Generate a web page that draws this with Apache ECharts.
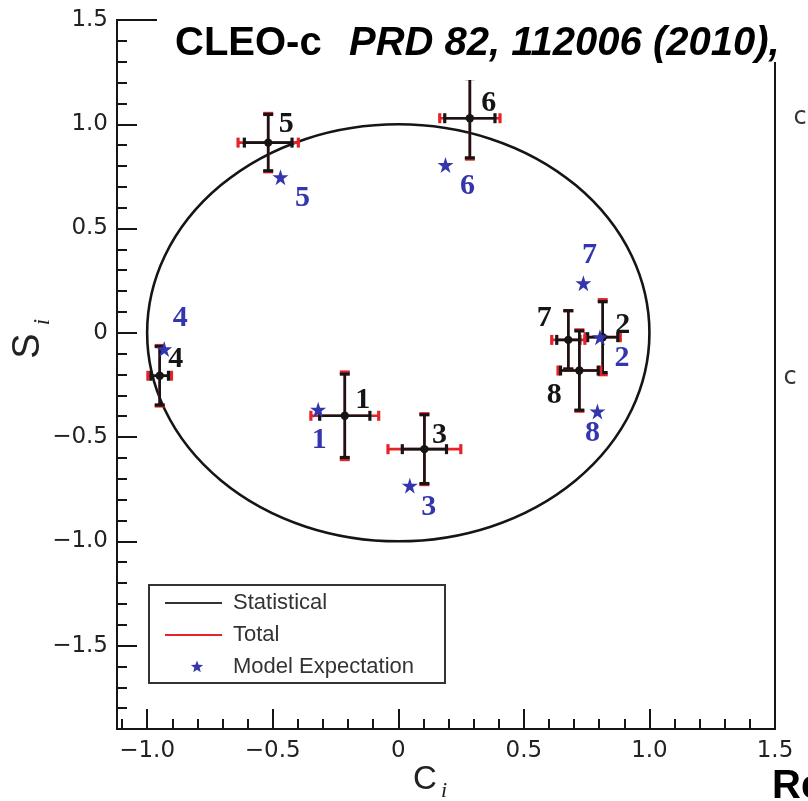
<!DOCTYPE html>
<html>
<head>
<meta charset="utf-8">
<script src="https://cdn.jsdelivr.net/npm/echarts@6/dist/echarts.min.js"></script>
<style>html,body{margin:0;padding:0;background:#fff;}#chart{width:808px;height:801px;}</style>
</head>
<body>
<div id="chart"></div>
<script>
// ---------- data ----------
const pointLabels = ['1', '2', '3', '4', '5', '6', '7', '8'];
const cValues   = [-0.213, 0.814, 0.104, -0.950, -0.518, 0.285, 0.677, 0.721];
const sValues   = [-0.398, -0.021, -0.558, -0.206, 0.912, 1.029, -0.034, -0.181];
const cStatErr  = [0.100, 0.060, 0.088, 0.035, 0.095, 0.100, 0.046, 0.075];
const cTotErr   = [0.135, 0.070, 0.145, 0.047, 0.120, 0.120, 0.066, 0.085];
const sStatErr  = [0.200, 0.170, 0.165, 0.140, 0.135, 0.190, 0.140, 0.190];
const sTotErr   = [0.210, 0.180, 0.170, 0.145, 0.140, 0.196, 0.140, 0.195];
const modelC    = [-0.319, 0.803, 0.046, -0.932, -0.469, 0.188, 0.737, 0.793];
const modelS    = [-0.369, -0.021, -0.733, -0.078, 0.746, 0.805, 0.238, -0.377];
const circleCenter = [0, 0];
const circleRadius = 1;
const xMajorTicks = [-1.0, -0.5, 0, 0.5, 1.0, 1.5];
const xMinorTicks = [-1.1, -0.9, -0.8, -0.7, -0.6, -0.4, -0.3, -0.2, -0.1, 0.1, 0.2, 0.3, 0.4, 0.6, 0.7, 0.8, 0.9, 1.1, 1.2, 1.3, 1.4];
const yMajorTicks = [-1.5, -1.0, -0.5, 0, 0.5, 1.0, 1.5];
const yMinorTicks = [-1.9, -1.8, -1.7, -1.6, -1.4, -1.3, -1.2, -1.1, -0.9, -0.8, -0.7, -0.6, -0.4, -0.3, -0.2, -0.1, 0.1, 0.2, 0.3, 0.4, 0.6, 0.7, 0.8, 0.9, 1.1, 1.2, 1.3, 1.4];
const legendNames = ['Statistical', 'Total', 'Model Expectation'];

// ---------- styles ----------
const BLACK = '#151515', RED = '#e5232b', BLUE = '#3436ad';
const blackLabelOffsets = [[18,-16],[20,-12],[15,-14],[16,-17],[18,-18],[19,-15],[-24,-22],[-25,25]];
const blueLabelOffsets  = [[1,31],[22,21],[19,22],[16,-31],[22,21],[22,21],[6,-28],[-5,22]];
const STAR = 'path://M50,0 L61.2,34.5 L97.6,34.5 L68.2,55.9 L79.4,90.5 L50,69.1 L20.6,90.5 L31.8,55.9 L2.4,34.5 L38.8,34.5 Z';
const numFont = {fontFamily: 'Liberation Serif', fontWeight: 'bold', fontSize: 30};
const tickFont = {fontFamily: 'DejaVu Sans', fontSize: 23, color: '#222'};

function fmt(v) {
  if (Math.abs(v) < 1e-9) return '0';
  return (v < 0 ? '\u2212' : '') + Math.abs(v).toFixed(1);
}
function starPoints(cx, cy, R) {
  const pts = [];
  for (let k = 0; k < 10; k++) {
    const r = k % 2 === 0 ? R : R * 0.42;
    const a = -Math.PI / 2 + k * Math.PI / 5;
    pts.push([cx + r * Math.cos(a), cy + r * Math.sin(a)]);
  }
  return pts;
}

const errData = cValues.map((c, i) => [c, sValues[i], cStatErr[i], cTotErr[i], sStatErr[i], sTotErr[i]]);
const ptData = cValues.map((c, i) => ({value: [c, sValues[i]], label: {formatter: pointLabels[i], offset: blackLabelOffsets[i]}}));
const modelData = modelC.map((c, i) => ({value: [c, modelS[i]], label: {formatter: pointLabels[i], offset: blueLabelOffsets[i]}}));

function renderErr(params, api) {
  const c = api.value(0), s = api.value(1), cs = api.value(2), ct = api.value(3), ss = api.value(4), st = api.value(5);
  const P = (x, y) => api.coord([x, y]);
  const ctr = P(c, s);
  const hl = P(c - ct, s), hr = P(c + ct, s), hls = P(c - cs, s), hrs = P(c + cs, s);
  const vt = P(c, s + st), vb = P(c, s - st), vts = P(c, s + ss), vbs = P(c, s - ss);
  const cap = 5;
  const line = (a, b, color, w) => ({type: 'line', shape: {x1: a[0], y1: a[1], x2: b[0], y2: b[1]}, style: {stroke: color, lineWidth: w}});
  const vcap = (p, color) => line([p[0], p[1] - cap], [p[0], p[1] + cap], color, 3.2);
  const hcap = (p, color) => line([p[0] - cap, p[1]], [p[0] + cap, p[1]], color, 3.2);
  return {
    type: 'group',
    children: [
      line(hl, hr, RED, 2.6), line(vt, vb, RED, 2.6),
      vcap(hl, RED), vcap(hr, RED), hcap(vt, RED), hcap(vb, RED),
      line(hls, hrs, BLACK, 2.6), line(vts, vbs, BLACK, 2.6),
      vcap(hls, BLACK), vcap(hrs, BLACK), hcap(vts, BLACK), hcap(vbs, BLACK),
      {type: 'circle', shape: {cx: ctr[0], cy: ctr[1], r: 4.2}, style: {fill: BLACK}}
    ]
  };
}

function renderCircle(params, api) {
  const c = api.coord([api.value(0), api.value(1)]);
  const r = api.value(2);
  const sz = api.size([r, r]);
  const rx = sz[0], ry = sz[1];
  const d = 'M' + (c[0] - rx) + ',' + c[1] +
            ' A' + rx + ',' + ry + ' 0 1 0 ' + (c[0] + rx) + ',' + c[1] +
            ' A' + rx + ',' + ry + ' 0 1 0 ' + (c[0] - rx) + ',' + c[1] + ' Z';
  return {type: 'path', shape: {pathData: d}, style: {fill: 'none', stroke: BLACK, lineWidth: 2.6}};
}

const axisLineStyle = {color: BLACK, width: 2};
const chart = echarts.init(document.getElementById('chart'), null, {renderer: 'canvas'});
chart.setOption({
  animation: false,
  backgroundColor: '#fff',
  grid: {left: 117, right: 33, top: 20, bottom: 72, show: true, borderColor: BLACK, borderWidth: 2, backgroundColor: 'transparent'},
  xAxis: [
    {type: 'value', min: -1.12, max: 1.5, position: 'bottom', splitLine: {show: false},
     axisLine: {show: true, onZero: false, lineStyle: axisLineStyle},
     axisTick: {show: true, inside: true, length: 20, customValues: xMajorTicks, lineStyle: {color: BLACK, width: 2}},
     axisLabel: Object.assign({show: true, margin: 11, customValues: xMajorTicks, formatter: fmt}, tickFont)},
    {type: 'value', min: -1.12, max: 1.5, position: 'bottom', splitLine: {show: false},
     axisLine: {show: false, onZero: false},
     axisTick: {show: true, inside: true, length: 10, customValues: xMinorTicks, lineStyle: {color: BLACK, width: 2}},
     axisLabel: {show: false}}
  ],
  yAxis: [
    {type: 'value', min: -1.9, max: 1.5, position: 'left', splitLine: {show: false},
     axisLine: {show: true, onZero: false, lineStyle: axisLineStyle},
     axisTick: {show: true, inside: true, length: 20, customValues: yMajorTicks, lineStyle: {color: BLACK, width: 2}},
     axisLabel: Object.assign({show: true, margin: 9, customValues: yMajorTicks, formatter: fmt}, tickFont)},
    {type: 'value', min: -1.9, max: 1.5, position: 'left', splitLine: {show: false},
     axisLine: {show: false, onZero: false},
     axisTick: {show: true, inside: true, length: 10, customValues: yMinorTicks, lineStyle: {color: BLACK, width: 2}},
     axisLabel: {show: false}}
  ],
  series: [
    {type: 'custom', name: 'circle', xAxisIndex: 0, yAxisIndex: 0, renderItem: renderCircle,
     data: [[circleCenter[0], circleCenter[1], circleRadius]], silent: true, z: 1},
    {type: 'custom', name: legendNames[0], xAxisIndex: 0, yAxisIndex: 0, renderItem: renderErr, data: errData, z: 3},
    {type: 'scatter', name: 'labels', xAxisIndex: 0, yAxisIndex: 0, symbolSize: 0, data: ptData, z: 4,
     itemStyle: {opacity: 1},
     label: Object.assign({show: true, position: 'inside', color: BLACK, opacity: 1}, numFont)},
    {type: 'scatter', name: legendNames[2], xAxisIndex: 0, yAxisIndex: 0, symbol: STAR, symbolSize: 16,
     itemStyle: {color: BLUE, opacity: 1}, data: modelData, z: 5,
     label: Object.assign({show: true, position: 'inside', color: BLUE, opacity: 1}, numFont)}
  ],
  graphic: [
    {type: 'rect', z: 100, shape: {x: 157, y: 0, width: 614, height: 80}, style: {fill: '#fff'}},
    {type: 'rect', z: 100, shape: {x: 771, y: 0, width: 37, height: 62}, style: {fill: '#fff'}},
    {type: 'text', z: 101, x: 175, y: 44, style: {text: 'CLEO-c', fontFamily: 'Liberation Sans', fontWeight: 'bold', fontSize: 40, fill: '#000', verticalAlign: 'middle', align: 'left'}},
    {type: 'text', z: 101, x: 349, y: 44, style: {text: 'PRD 82, 112006 (2010),', fontFamily: 'Liberation Sans', fontWeight: 'bold', fontStyle: 'italic', fontSize: 40, fill: '#000', verticalAlign: 'middle', align: 'left'}},
    {type: 'text', z: 101, x: 772, y: 787, style: {text: 'Re', fontFamily: 'Liberation Sans', fontWeight: 'bold', fontSize: 40, fill: '#000', verticalAlign: 'middle', align: 'left'}},
    {type: 'text', z: 101, x: 800, y: 118, style: {text: 'c', fontFamily: 'DejaVu Sans', fontSize: 24, fill: '#333', verticalAlign: 'middle', align: 'center'}},
    {type: 'text', z: 101, x: 790, y: 378, style: {text: 'c', fontFamily: 'DejaVu Sans', fontSize: 24, fill: '#333', verticalAlign: 'middle', align: 'center'}},
    {type: 'text', z: 101, x: 425, y: 780, style: {text: 'C', fontFamily: 'Liberation Sans', fontSize: 33, fill: '#222', verticalAlign: 'middle', align: 'center'}},
    {type: 'text', z: 101, x: 444, y: 791, style: {text: 'i', fontFamily: 'Liberation Serif', fontStyle: 'italic', fontSize: 22, fill: '#222', verticalAlign: 'middle', align: 'center'}},
    {type: 'text', z: 101, x: 29, y: 346, rotation: Math.PI / 2, style: {text: 'S', fontFamily: 'Liberation Sans', fontSize: 38, fill: '#222', verticalAlign: 'middle', align: 'center'}},
    {type: 'text', z: 101, x: 43, y: 322, rotation: Math.PI / 2, style: {text: 'i', fontFamily: 'Liberation Serif', fontStyle: 'italic', fontSize: 23, fill: '#222', verticalAlign: 'middle', align: 'center'}},
    {type: 'rect', z: 90, shape: {x: 149, y: 585, width: 296, height: 98}, style: {fill: '#fff', stroke: '#333', lineWidth: 2}},
    {type: 'line', z: 91, shape: {x1: 165, y1: 603, x2: 222, y2: 603}, style: {stroke: '#333', lineWidth: 2}},
    {type: 'line', z: 91, shape: {x1: 165, y1: 635, x2: 222, y2: 635}, style: {stroke: RED, lineWidth: 2}},
    {type: 'polygon', z: 91, shape: {points: starPoints(197, 667, 6.5)}, style: {fill: BLUE}},
    {type: 'text', z: 91, x: 233, y: 603, style: {text: legendNames[0], fontFamily: 'Liberation Sans', fontSize: 22, fill: '#333', verticalAlign: 'middle'}},
    {type: 'text', z: 91, x: 233, y: 635, style: {text: legendNames[1], fontFamily: 'Liberation Sans', fontSize: 22, fill: '#333', verticalAlign: 'middle'}},
    {type: 'text', z: 91, x: 233, y: 667, style: {text: legendNames[2], fontFamily: 'Liberation Sans', fontSize: 22, fill: '#333', verticalAlign: 'middle'}}
  ]
});
</script>
</body>
</html>
